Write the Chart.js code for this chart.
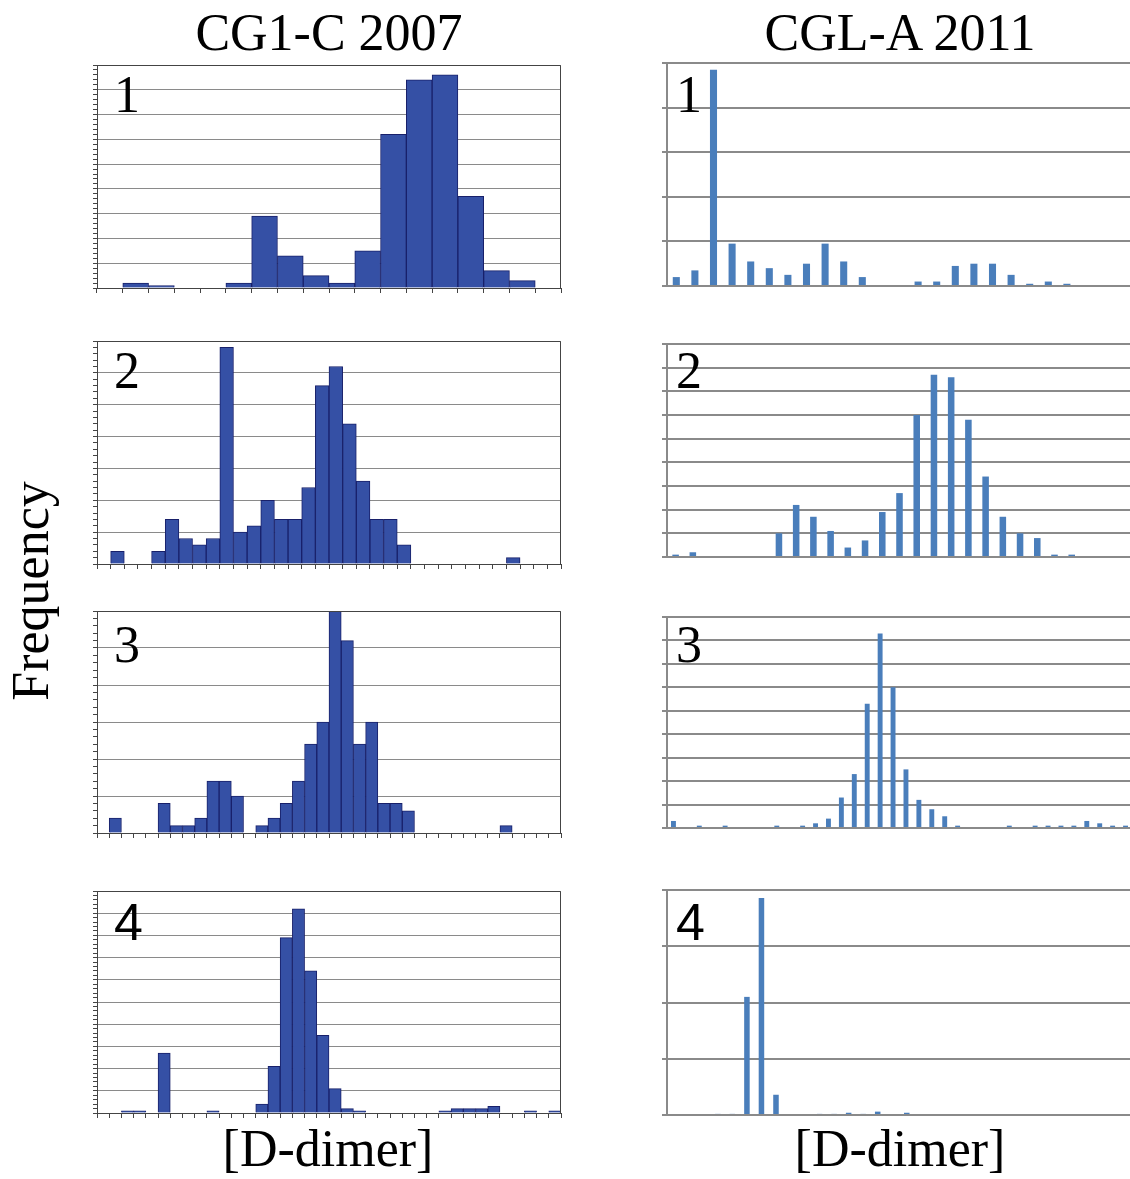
<!DOCTYPE html>
<html>
<head>
<meta charset="utf-8">
<script src="https://cdn.jsdelivr.net/npm/chart.js@4.4.1/dist/chart.umd.min.js"></script>
<style>
  html, body { margin: 0; padding: 0; background: #fff; overflow: hidden; }
  body { width: 1130px; height: 1179px; position: relative; }
  canvas, .lbl { position: absolute; }
  .lbl { font-family: "Liberation Serif", "Times New Roman", serif; font-size: 52px; line-height: 52px; color: #000; white-space: nowrap; }
  .sans { font-family: "Liberation Sans", Arial, sans-serif; }
  .center { transform: translateX(-50%); }
</style>
</head>
<body>
<div class="lbl center" style="left:329px; top:7px;">CG1-C 2007</div>
<div class="lbl center" style="left:900px; top:7px;">CGL-A 2011</div>
<div class="lbl center" style="left:328px; top:1123px;">[D-dimer]</div>
<div class="lbl center" style="left:900px; top:1123px;">[D-dimer]</div>
<div class="lbl" style="left:31px; top:591px; transform: translate(-50%, -50%) rotate(-90deg);">Frequency</div>

<canvas id="cgc1"></canvas>
<canvas id="cgc2"></canvas>
<canvas id="cgc3"></canvas>
<canvas id="cgc4"></canvas>
<canvas id="cgl1"></canvas>
<canvas id="cgl2"></canvas>
<canvas id="cgl3"></canvas>
<canvas id="cgl4"></canvas>

<div class="lbl" style="left:114px; top:69px;">1</div>
<div class="lbl" style="left:114px; top:345px;">2</div>
<div class="lbl" style="left:114px; top:619px;">3</div>
<div class="lbl sans" style="left:114px; top:896px;">4</div>
<div class="lbl" style="left:676px; top:69px;">1</div>
<div class="lbl" style="left:676px; top:345px;">2</div>
<div class="lbl" style="left:676px; top:619px;">3</div>
<div class="lbl sans" style="left:676px; top:896px;">4</div>

<script>
// CG1-C 2007 (left column), counts per D-dimer bin
const cgcCounts1 = [0, 2, 1, 0, 0, 2, 29, 13, 5, 2, 15, 62, 84, 86, 37, 7, 3, 0];
const cgcCounts2 = [0, 2, 0, 0, 2, 7, 4, 3, 4, 34, 5, 6, 10, 7, 7, 12, 28, 31, 22, 13, 7, 7, 3,
                    0, 0, 0, 0, 0, 0, 0, 1, 0, 0, 0];
const cgcCounts3 = [0, 2, 0, 0, 0, 4, 1, 1, 2, 7, 7, 5, 0, 1, 2, 4, 7, 12, 15, 30, 26, 12, 15,
                    4, 4, 3, 0, 0, 0, 0, 0, 0, 0, 1, 0, 0, 0, 0];
const cgcCounts4 = [0, 0, 1, 1, 0, 27, 0, 0, 0, 1, 0, 0, 0, 4, 21, 79, 92, 64, 35, 11, 2, 1,
                    0, 0, 0, 0, 0, 0, 1, 2, 2, 2, 3, 0, 0, 1, 0, 1];
const cgcYMax = [90, 35, 30, 100];
const cgcYStep = [10, 5, 5, 10];

// CGL-A 2011 (right column)
const cglCounts1 = [4, 7, 97, 19, 11, 8, 5, 10, 19, 11, 4, 0, 0, 2, 2, 9, 10, 10, 5, 1, 2, 1, 0, 0, 0];
const cglCounts2 = [1, 2, 0, 0, 0, 0, 10, 22, 17, 11, 4, 7, 19, 27, 60, 77, 76, 58, 34, 17, 10, 8,
                    1, 1, 0, 0, 0];
const cglCounts3 = [3, 0, 1, 0, 1, 0, 0, 0, 1, 0, 1, 2, 4, 13, 23, 53, 83, 60, 25, 12, 8, 5,
                    1, 0, 0, 0, 1, 0, 1, 1, 1, 1, 3, 2, 1, 1];
const cglCounts4 = [0, 0, 0, 1, 1, 105, 193, 18, 0, 0, 1, 1, 2, 1, 3, 0, 2, 0, 0, 0, 0, 0,
                    0, 0, 0, 0, 0, 0, 0, 0, 0, 0];
const cglYMax = [100, 90, 90, 200];
const cglYStep = [20, 10, 10, 50];

// plot-area rectangles on the page
const leftBoxes = [
  { x0: 97, x1: 561, y0: 65, y1: 288 },
  { x0: 97, x1: 561, y0: 341, y1: 564 },
  { x0: 97, x1: 561, y0: 611, y1: 833 },
  { x0: 97, x1: 561, y0: 891, y1: 1113 }
];
const rightBoxes = [
  { x0: 667, x1: 1132, y0: 63, y1: 286 },
  { x0: 667, x1: 1132, y0: 344, y1: 557 },
  { x0: 667, x1: 1132, y0: 617, y1: 828 },
  { x0: 667, x1: 1132, y0: 890, y1: 1115 }
];

const PAD_L = 7, PAD_R = 3, PAD_T = 3, PAD_B = 7;

function placeCanvas(id, box) {
  const c = document.getElementById(id);
  c.width = box.x1 - box.x0 + PAD_L + PAD_R;
  c.height = box.y1 - box.y0 + PAD_T + PAD_B;
  c.style.left = (box.x0 - PAD_L) + 'px';
  c.style.top = (box.y0 - PAD_T) + 'px';
  return c;
}

const framePlugin = {
  id: 'frame',
  afterDatasetsDraw(chart) {
    const { ctx, chartArea: a } = chart;
    ctx.save();
    ctx.strokeStyle = '#444';
    ctx.lineWidth = 1;
    ctx.beginPath();
    ctx.moveTo(a.left, a.top + 0.5);
    ctx.lineTo(a.right - 0.5, a.top + 0.5);
    ctx.lineTo(a.right - 0.5, a.bottom);
    ctx.stroke();
    ctx.restore();
  }
};

function leftHist(id, box, counts, yMax, yStep) {
  const isMajor = v => Math.abs(v / yStep - Math.round(v / yStep)) < 1e-6;
  new Chart(placeCanvas(id, box), {
    type: 'bar',
    data: {
      labels: counts.map((_, i) => i + 1),
      datasets: [{
        data: counts,
        backgroundColor: '#3550a5',
        borderColor: '#18206a',
        borderWidth: 1,
        categoryPercentage: 1,
        barPercentage: 1
      }]
    },
    options: {
      responsive: false,
      animation: false,
      layout: { padding: { left: 0, top: PAD_T, right: PAD_R, bottom: 0 } },
      plugins: { legend: { display: false }, tooltip: { enabled: false } },
      scales: {
        x: {
          ticks: { display: false },
          grid: { drawOnChartArea: false, tickLength: 5, tickColor: '#444' },
          border: { color: '#444', width: 1 },
          afterFit: s => { s.height = PAD_B; }
        },
        y: {
          min: 0,
          max: yMax,
          ticks: { display: false, stepSize: yStep / 5 },
          grid: {
            color: ctx => isMajor(ctx.tick.value) ? '#8a8a8a' : 'rgba(0,0,0,0)',
            tickColor: '#444',
            tickLength: 4
          },
          border: { color: '#444', width: 1 },
          afterFit: s => { s.width = PAD_L; }
        }
      }
    },
    plugins: [framePlugin]
  });
}

function rightHist(id, box, counts, yMax, yStep) {
  new Chart(placeCanvas(id, box), {
    type: 'bar',
    data: {
      labels: counts.map((_, i) => i + 1),
      datasets: [{
        data: counts,
        backgroundColor: '#4a7ebb',
        borderWidth: 0,
        categoryPercentage: 1,
        barPercentage: 0.38
      }]
    },
    options: {
      responsive: false,
      animation: false,
      layout: { padding: { left: 0, top: PAD_T, right: PAD_R, bottom: 0 } },
      plugins: { legend: { display: false }, tooltip: { enabled: false } },
      scales: {
        x: {
          ticks: { display: false },
          grid: { display: false },
          border: { color: '#8a8a8a', width: 2 },
          afterFit: s => { s.height = PAD_B; }
        },
        y: {
          min: 0,
          max: yMax,
          ticks: { display: false, stepSize: yStep },
          grid: { color: '#8a8a8a', lineWidth: 2, tickLength: 5 },
          border: { color: '#8a8a8a', width: 2 },
          afterFit: s => { s.width = PAD_L; }
        }
      }
    }
  });
}

leftHist('cgc1', leftBoxes[0], cgcCounts1, cgcYMax[0], cgcYStep[0]);
leftHist('cgc2', leftBoxes[1], cgcCounts2, cgcYMax[1], cgcYStep[1]);
leftHist('cgc3', leftBoxes[2], cgcCounts3, cgcYMax[2], cgcYStep[2]);
leftHist('cgc4', leftBoxes[3], cgcCounts4, cgcYMax[3], cgcYStep[3]);

rightHist('cgl1', rightBoxes[0], cglCounts1, cglYMax[0], cglYStep[0]);
rightHist('cgl2', rightBoxes[1], cglCounts2, cglYMax[1], cglYStep[1]);
rightHist('cgl3', rightBoxes[2], cglCounts3, cglYMax[2], cglYStep[2]);
rightHist('cgl4', rightBoxes[3], cglCounts4, cglYMax[3], cglYStep[3]);
</script>
</body>
</html>
